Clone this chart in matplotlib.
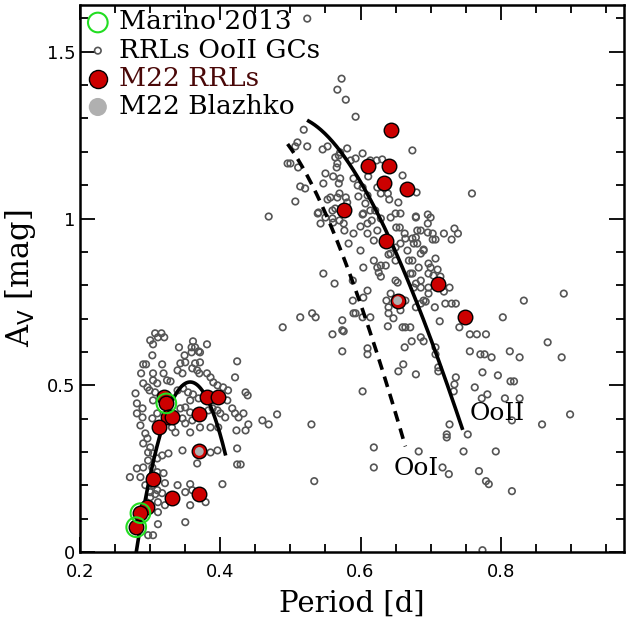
import numpy as np
import matplotlib
matplotlib.use('Agg')
import matplotlib.pyplot as plt
from matplotlib.ticker import MultipleLocator, FuncFormatter

# Bailey diagram of M22 RR Lyrae, period [d] vs V amplitude [mag]

# comparison RRLs in OoII globular clusters (first overtone group)
rrc_gray = [
    (0.307, 0.656), (0.316, 0.656), (0.320, 0.644), (0.311, 0.644), (0.300, 0.635), (0.304, 0.623),
    (0.341, 0.614), (0.361, 0.632), (0.359, 0.614), (0.364, 0.614), (0.381, 0.623), (0.359, 0.599),
    (0.369, 0.602), (0.371, 0.599), (0.349, 0.590), (0.303, 0.590), (0.290, 0.563), (0.294, 0.563),
    (0.317, 0.563), (0.343, 0.566), (0.350, 0.569), (0.364, 0.566), (0.371, 0.569), (0.424, 0.572),
    (0.287, 0.536), (0.304, 0.536), (0.319, 0.536), (0.339, 0.545), (0.346, 0.536), (0.360, 0.551),
    (0.367, 0.545), (0.370, 0.536), (0.381, 0.536), (0.386, 0.524), (0.421, 0.524), (0.304, 0.515),
    (0.324, 0.515), (0.290, 0.506), (0.296, 0.494), (0.310, 0.506), (0.329, 0.512), (0.390, 0.509),
    (0.396, 0.500), (0.404, 0.494), (0.411, 0.485), (0.279, 0.476), (0.299, 0.485), (0.307, 0.479),
    (0.304, 0.455), (0.281, 0.446), (0.339, 0.485), (0.347, 0.491), (0.354, 0.479), (0.361, 0.473),
    (0.357, 0.455), (0.369, 0.461), (0.390, 0.455), (0.400, 0.461), (0.410, 0.455), (0.436, 0.479),
    (0.439, 0.470), (0.289, 0.431), (0.281, 0.416), (0.289, 0.404), (0.303, 0.401), (0.310, 0.416),
    (0.286, 0.380), (0.343, 0.431), (0.350, 0.434), (0.357, 0.419), (0.346, 0.401), (0.350, 0.386),
    (0.360, 0.395), (0.383, 0.425), (0.389, 0.431), (0.396, 0.425), (0.400, 0.416), (0.407, 0.404),
    (0.417, 0.431), (0.421, 0.416), (0.426, 0.404), (0.460, 0.395), (0.469, 0.383), (0.440, 0.383),
    (0.423, 0.365), (0.397, 0.374), (0.386, 0.374), (0.371, 0.374), (0.357, 0.359), (0.331, 0.374),
    (0.336, 0.359), (0.293, 0.356), (0.296, 0.341), (0.300, 0.314), (0.297, 0.299), (0.304, 0.296),
    (0.310, 0.281), (0.317, 0.290), (0.326, 0.296), (0.346, 0.305), (0.367, 0.266), (0.386, 0.299),
    (0.396, 0.305), (0.424, 0.311), (0.424, 0.263), (0.429, 0.263), (0.290, 0.254), (0.281, 0.251),
    (0.271, 0.225), (0.300, 0.225), (0.310, 0.240), (0.319, 0.237), (0.293, 0.201), (0.304, 0.201),
    (0.310, 0.186), (0.300, 0.180), (0.321, 0.207), (0.339, 0.201), (0.357, 0.204), (0.360, 0.186),
    (0.350, 0.180), (0.379, 0.150), (0.357, 0.141), (0.403, 0.204), (0.300, 0.165), (0.311, 0.150),
    (0.311, 0.120), (0.311, 0.084), (0.350, 0.090), (0.297, 0.051), (0.304, 0.051), (0.307, 0.174),
    (0.317, 0.177), (0.321, 0.141), (0.290, 0.326), (0.297, 0.275), (0.303, 0.254), (0.286, 0.225),
    (0.481, 0.413), (0.433, 0.416), (0.436, 0.365),
]

# comparison RRLs in OoII globular clusters (fundamental mode group)
rrab_gray = [
    (0.756, 0.653), (0.766, 0.653), (0.779, 0.653), (0.707, 0.614), (0.707, 0.593), (0.711, 0.554),
    (0.711, 0.542), (0.736, 0.524), (0.734, 0.503), (0.733, 0.482), (0.756, 0.602), (0.771, 0.593),
    (0.777, 0.593), (0.787, 0.584), (0.813, 0.602), (0.827, 0.584), (0.867, 0.629), (0.887, 0.584),
    (0.774, 0.539), (0.796, 0.530), (0.814, 0.512), (0.819, 0.512), (0.763, 0.494), (0.781, 0.473),
    (0.773, 0.461), (0.806, 0.461), (0.827, 0.461), (0.816, 0.395), (0.859, 0.383), (0.899, 0.413),
    (0.727, 0.383), (0.723, 0.353), (0.723, 0.344), (0.753, 0.353), (0.747, 0.302), (0.793, 0.302),
    (0.717, 0.254), (0.726, 0.234), (0.769, 0.243), (0.779, 0.213), (0.783, 0.204), (0.816, 0.183),
    (0.774, 0.006),
    (0.574, 0.602), (0.560, 0.653), (0.576, 0.662), (0.603, 0.482), (0.610, 0.611), (0.610, 0.593),
    (0.619, 0.314), (0.619, 0.254), (0.683, 0.302), (0.654, 0.542), (0.661, 0.563), (0.679, 0.533),
    (0.663, 0.614), (0.673, 0.632), (0.690, 0.632), (0.530, 0.383), (0.534, 0.213), (0.489, 0.674),
    (0.514, 0.704), (0.531, 0.716), (0.536, 0.704),
    (0.674, 1.204), (0.680, 1.078), (0.759, 1.075), (0.679, 1.006), (0.696, 1.012), (0.700, 1.003),
    (0.696, 0.985), (0.681, 0.964), (0.686, 0.964), (0.696, 0.958), (0.703, 0.955), (0.719, 0.955),
    (0.734, 0.970), (0.739, 0.955), (0.703, 0.937), (0.707, 0.937), (0.730, 0.937), (0.676, 0.925),
    (0.681, 0.925), (0.690, 0.907), (0.686, 0.895), (0.707, 0.880), (0.674, 0.874), (0.697, 0.865),
    (0.683, 0.853), (0.700, 0.853), (0.710, 0.847), (0.697, 0.835), (0.704, 0.829), (0.714, 0.826),
    (0.674, 0.835), (0.679, 0.805), (0.686, 0.793), (0.697, 0.793), (0.727, 0.793), (0.719, 0.781),
    (0.697, 0.775), (0.693, 0.751), (0.686, 0.745), (0.679, 0.734), (0.706, 0.734), (0.721, 0.745),
    (0.730, 0.745), (0.736, 0.745), (0.713, 0.692), (0.741, 0.674), (0.803, 0.704), (0.833, 0.754),
    (0.890, 0.775), (0.671, 0.674),
    (0.507, 1.051), (0.539, 1.015), (0.543, 0.985), (0.550, 1.003), (0.560, 1.024), (0.564, 1.030),
    (0.561, 0.988), (0.570, 0.994), (0.577, 0.964), (0.583, 0.925), (0.590, 0.955), (0.600, 0.904),
    (0.603, 1.012), (0.604, 1.015), (0.607, 1.045), (0.600, 0.976), (0.610, 0.985), (0.610, 0.955),
    (0.616, 0.994), (0.624, 0.964), (0.619, 0.934), (0.614, 1.024), (0.621, 1.024), (0.629, 1.000),
    (0.643, 1.003), (0.650, 1.015), (0.657, 1.015), (0.651, 0.973), (0.656, 0.973), (0.663, 0.955),
    (0.664, 0.940), (0.650, 0.913), (0.657, 0.925), (0.679, 1.003), (0.674, 0.940), (0.679, 0.943),
    (0.690, 0.904), (0.667, 0.904), (0.643, 0.895), (0.640, 0.892), (0.650, 0.874), (0.669, 0.874),
    (0.619, 0.874), (0.624, 0.853), (0.629, 0.859), (0.636, 0.859), (0.626, 0.838), (0.629, 0.826),
    (0.650, 0.814), (0.653, 0.808), (0.671, 0.835), (0.676, 0.793), (0.686, 0.814), (0.604, 0.853),
    (0.547, 0.835), (0.563, 0.805), (0.589, 0.814), (0.610, 0.784), (0.604, 0.763), (0.589, 0.754),
    (0.643, 0.775), (0.637, 0.754), (0.640, 0.734), (0.657, 0.725), (0.664, 0.754), (0.690, 0.754),
    (0.640, 0.716), (0.647, 0.701), (0.614, 0.704), (0.603, 0.704), (0.590, 0.716), (0.574, 0.695),
    (0.574, 0.665), (0.639, 0.677), (0.660, 0.674), (0.664, 0.674), (0.686, 0.644), (0.593, 0.716),
    (0.573, 1.419), (0.567, 1.386), (0.579, 1.356), (0.593, 1.305), (0.519, 1.266), (0.510, 1.228),
    (0.507, 1.216), (0.524, 1.216), (0.546, 1.207), (0.553, 1.216), (0.496, 1.165), (0.500, 1.165),
    (0.511, 1.153), (0.564, 1.183), (0.569, 1.189), (0.571, 1.198), (0.581, 1.210), (0.567, 1.165),
    (0.566, 1.153), (0.586, 1.174), (0.593, 1.180), (0.603, 1.195), (0.550, 1.135), (0.561, 1.126),
    (0.571, 1.120), (0.547, 1.105), (0.569, 1.105), (0.590, 1.120), (0.596, 1.099), (0.603, 1.093),
    (0.611, 1.126), (0.614, 1.174), (0.623, 1.174), (0.631, 1.177), (0.660, 1.129), (0.624, 1.093),
    (0.629, 1.075), (0.639, 1.075), (0.610, 1.069), (0.521, 1.090), (0.514, 1.096), (0.553, 1.057),
    (0.557, 1.063), (0.567, 1.063), (0.570, 1.075), (0.579, 1.063), (0.581, 1.048), (0.597, 1.066),
    (0.641, 1.057), (0.654, 1.048), (0.469, 1.006), (0.524, 1.599), (0.540, 1.018), (0.560, 1.000),
    (0.576, 0.985),
]

# M22 RR Lyrae
m22_period = [0.319, 0.323, 0.326, 0.331, 0.313, 0.381, 0.397, 0.369, 0.304, 0.331, 0.369,
              0.296, 0.286, 0.280, 0.370,
              0.644, 0.610, 0.640, 0.633, 0.667, 0.576, 0.636, 0.710, 0.749, 0.653]
m22_amp = [0.464, 0.446, 0.404, 0.404, 0.374, 0.464, 0.464, 0.413, 0.220, 0.162, 0.174,
           0.135, 0.117, 0.075, 0.302,
           1.266, 1.156, 1.156, 1.105, 1.087, 1.024, 0.934, 0.805, 0.704, 0.754]

# Blazhko stars among them
blazhko_period = [0.370, 0.653]
blazhko_amp = [0.302, 0.754]

# stars in common with Marino et al. 2013
marino_period = [0.323, 0.286, 0.280]
marino_amp = [0.446, 0.117, 0.075]

# Oosterhoff loci (Cacciari et al. 2005 form, in log P) and the RRc parabola
oo_coef = [-2.627, -22.046, -30.876]
ooi_range = (0.496, 0.664)
ooii_shift = 0.055
ooii_range = (0.526, 0.745)
rrc_peak = (0.357, 0.51)
rrc_curv = -86.0
rrc_range = (0.277, 0.407)

serif = 'DejaVu Serif'

fig = plt.figure(figsize=(6.31, 6.17), dpi=100)
ax = fig.add_axes([0.127, 0.105, 0.862, 0.887])

gp, ga = zip(*(rrc_gray + rrab_gray))
ax.scatter(gp, ga, s=22, facecolors='none', edgecolors='#555555', linewidths=1.2, zorder=2)

# curves
p = np.linspace(*ooi_range, 200)
lp = np.log10(p)
ax.plot(p, oo_coef[0] + oo_coef[1] * lp + oo_coef[2] * lp**2, color='black', lw=2.6,
        ls=(0, (3, 2)), zorder=3)
p = np.linspace(*ooii_range, 200)
lp = np.log10(p) - ooii_shift
ax.plot(p, oo_coef[0] + oo_coef[1] * lp + oo_coef[2] * lp**2, color='black', lw=2.6, zorder=3)
p = np.linspace(*rrc_range, 200)
ax.plot(p, rrc_peak[1] + rrc_curv * (p - rrc_peak[0])**2, color='black', lw=2.6, zorder=3)

ax.scatter(m22_period, m22_amp, s=110, color='#cc0000', edgecolors='black', linewidths=1.0, zorder=4)
ax.scatter(blazhko_period, blazhko_amp, s=40, color='#b0b0b0', edgecolors='none', zorder=5)
ax.scatter(marino_period, marino_amp, s=200, facecolors='none', edgecolors='#22dd22',
           linewidths=1.5, zorder=6)

ax.text(0.755, 0.416, 'OoII', fontsize=18, family=serif, va='center', ha='left')
ax.text(0.647, 0.25, 'OoI', fontsize=18, family=serif, va='center', ha='left')

# legend
h1 = ax.scatter([], [], s=200, facecolors='none', edgecolors='#22dd22', linewidths=1.5)
h2 = ax.scatter([], [], s=22, facecolors='none', edgecolors='#555555', linewidths=1.2)
h3 = ax.scatter([], [], s=170, color='#cc0000', edgecolors='black', linewidths=1.0)
h4 = ax.scatter([], [], s=170, color='#b0b0b0', edgecolors='none')
leg = ax.legend([h1, h2, h3, h4], ['Marino 2013', 'RRLs OoII GCs', 'M22 RRLs', 'M22 Blazhko'],
                loc='upper left', frameon=False, prop={'family': serif, 'size': 19},
                handletextpad=0.3, labelspacing=0.12, borderaxespad=0.02, handlelength=1.0,
                borderpad=0.15)
leg.get_texts()[2].set_color('#4a0808')

ax.set_xlim(0.2, 0.976)
ax.set_ylim(0, 1.64)
ax.xaxis.set_major_locator(MultipleLocator(0.2))
ax.xaxis.set_minor_locator(MultipleLocator(0.05))
ax.yaxis.set_major_locator(MultipleLocator(0.5))
ax.yaxis.set_minor_locator(MultipleLocator(0.1))
ax.xaxis.set_major_formatter(FuncFormatter(lambda v, _: f'{v:g}'))
ax.yaxis.set_major_formatter(FuncFormatter(lambda v, _: f'{v:g}'))
ax.tick_params(which='both', direction='in', top=True, right=True, width=1.3, labelsize=13)
ax.tick_params(which='major', length=11)
ax.tick_params(axis='x', which='major', pad=8)
ax.tick_params(which='minor', length=5.5)
for s in ax.spines.values():
    s.set_linewidth(1.8)

ax.set_xlabel('Period [d]', family=serif, fontsize=21, labelpad=6)
ax.set_ylabel(r'A$_{\rm V}$ [mag]', family=serif, fontsize=22, labelpad=6)

fig.savefig('out.png', dpi=100)
